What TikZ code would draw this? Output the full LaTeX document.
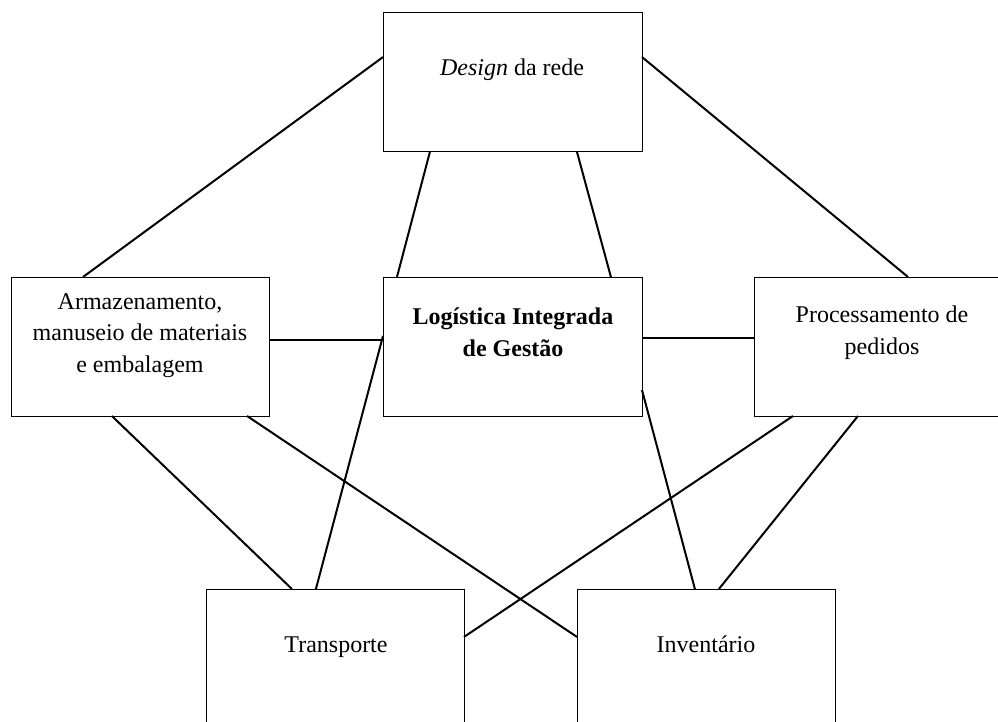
\documentclass[tikz,border=0pt]{standalone}
\usepackage{fontspec}
\setmainfont{Liberation Serif}
\usetikzlibrary{calc}
\begin{document}
\begin{tikzpicture}[x=1pt,y=-1pt,
  box/.style={draw, line width=1pt, minimum width=258pt, minimum height=139pt,
              inner sep=0pt, outer sep=0pt},
  lbl/.style={font=\fontsize{24}{31.5}\selectfont, align=center, inner sep=0pt, anchor=base},
  link/.style={line width=2pt}]
\useasboundingbox (0,0) rectangle (998,722);
\clip (0,0) rectangle (998,722);

% boxes
\node[box, minimum width=259pt] (des) at (512.5,82.5) {};
\node[box] (arm) at (140,346.5) {};
\node[box, minimum width=259pt] (log) at (512.5,346.5) {};
\node[box] (pro) at (883,346.5) {};
\node[box] (tra) at (335,658.5) {};
\node[box] (inv) at (706,658.5) {};

% labels (base anchor sits on the last line of each label)
\node[lbl] (desT) at (512,76) {\textit{Design} da rede};
\node[lbl] (armT) at (140,372) {Armazenamento,\\manuseio de materiais\\e embalagem};
\node[lbl, font=\fontsize{24}{32}\selectfont\bfseries] (logT) at (513,356) {Logística Integrada\\de Gestão};
\node[lbl] (proT) at (882,354) {Processamento de\\pedidos};
\node[lbl] (traT) at (336,652) {Transporte};
\node[lbl] (invT) at (706,652) {Inventário};

% connectors
\draw[link] ($(des.north west)!0.317!(des.south west)$) -- ($(arm.north west)!0.279!(arm.north east)$);
\draw[link] ($(des.north east)!0.317!(des.south east)$) -- ($(pro.north west)!0.597!(pro.north east)$);
\draw[link] ($(des.south west)!0.181!(des.south east)$) -- ($(log.north west)!0.054!(log.north east)$);
\draw[link] ($(des.south west)!0.749!(des.south east)$) -- ($(log.north west)!0.880!(log.north east)$);
\draw[link] ($(arm.north east)!0.453!(arm.south east)$) -- ($(log.north west)!0.453!(log.south west)$);
\draw[link] ($(log.north east)!0.439!(log.south east)$) -- ($(pro.north west)!0.439!(pro.south west)$);
\draw[link] ($(log.north west)!0.424!(log.south west)$) -- ($(tra.north west)!0.426!(tra.north east)$);
\draw[link] ($(log.north east)!0.813!(log.south east)$) -- ($(inv.north west)!0.457!(inv.north east)$);
\draw[link] ($(arm.south west)!0.391!(arm.south east)$) -- ($(tra.north west)!0.333!(tra.north east)$);
\draw[link] ($(arm.south west)!0.915!(arm.south east)$) -- ($(inv.north west)!0.345!(inv.south west)$);
\draw[link] ($(pro.south west)!0.151!(pro.south east)$) -- ($(tra.north east)!0.345!(tra.south east)$);
\draw[link] ($(pro.south west)!0.403!(pro.south east)$) -- ($(inv.north west)!0.550!(inv.north east)$);
\end{tikzpicture}
\end{document}
